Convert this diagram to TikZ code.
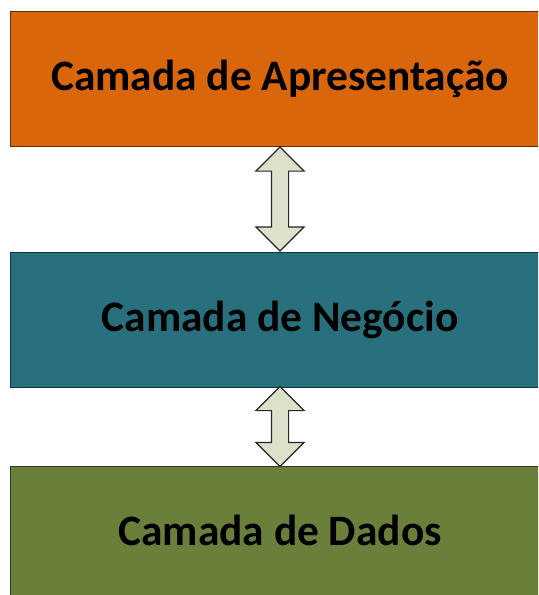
\documentclass[tikz,border=0pt]{standalone}
\usepackage{fontspec}
\setmainfont{Carlito}
\usetikzlibrary{calc,shapes.arrows}
\definecolor{laranja}{HTML}{D9660A}
\definecolor{azul}{HTML}{29707F}
\definecolor{verde}{HTML}{6A803A}
\definecolor{seta}{HTML}{DDE0CB}

\begin{document}
\begin{tikzpicture}[
		x=0.5pt, y=-0.5pt,			% 1 Einheit = 1 Pixel
		inner sep=0pt,
		font=\bfseries\fontsize{21.7}{26}\selectfont,
		camada/.style={draw, rectangle, line width=0.5pt, minimum width=270pt, minimum height=67.5pt,
			text height=12pt, text depth=0pt},
		duplaseta/.style={draw=black!85, double arrow, fill=seta, line width=0.6pt, shape border rotate=90,
			minimum width=23.5pt, double arrow head extend=7.75pt, inner sep=4pt}
	]
	\clip (0,0) rectangle (538,595);
	\useasboundingbox (0,0) rectangle (538,595);

	% Camadas
	\node[camada, fill=laranja, draw=laranja!45!black] (apresentacao) at (280,78.5) {Camada de Apresentação};
	\node[camada, fill=azul, draw=azul!45!black] (negocio) at (280,319.5) {Camada de Negócio};
	\node[camada, fill=verde, draw=verde!45!black] (dados) at (280,533.5) {Camada de Dados};

	% Setas
	\node[duplaseta, minimum height=52pt] (seta1) at ($(apresentacao.south)!0.5!(negocio.north)$) {};
	\node[duplaseta, minimum height=40pt] (seta2) at ($(negocio.south)!0.5!(dados.north)$) {};

\end{tikzpicture}
\end{document}
